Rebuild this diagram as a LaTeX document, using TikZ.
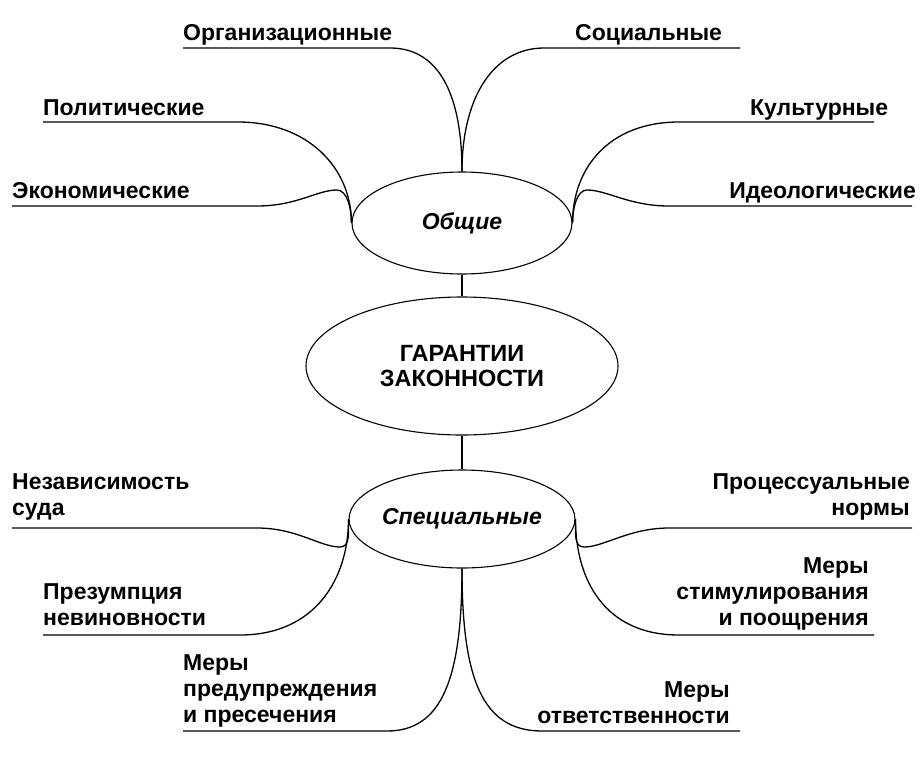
\documentclass[tikz,border=0pt]{standalone}
\usepackage{fontspec}
\setmainfont{Liberation Sans}
\usetikzlibrary{shapes.geometric}

\begin{document}
\begin{tikzpicture}[x=1pt, y=-1pt,
    every node/.style={font=\fontsize{23}{26}\selectfont\bfseries, inner sep=0pt},
    oval/.style={draw, ellipse, line width=1.1pt, inner sep=0pt},
    branch/.style={line width=1.3pt},
    lbl/.style={anchor=base west, align=left},
    rlbl/.style={anchor=base east, align=right}]
  \useasboundingbox (0,0) rectangle (924,756);

  % ellipses
  \node[oval, minimum width=220, minimum height=102] (obsh) at (462,223) {\itshape Общие};
  \node[oval, minimum width=312, minimum height=138, align=center,
        font=\fontsize{23.5}{25}\selectfont\bfseries] (main) at (462,366) {ГАРАНТИИ\\ЗАКОННОСТИ};
  \node[oval, minimum width=220, minimum height=98] (spec) at (462,519) {\itshape Специальные};
  \draw[branch] (obsh) -- (main);
  \draw[branch] (main) -- (spec);

  % general guarantees
  \node[lbl] (org) at (183,40) {Организационные};
  \node[lbl] (soc) at (575,40) {Социальные};
  \node[lbl] (pol) at (43,115) {Политические};
  \node[lbl] (eco) at (12,198) {Экономические};
  \node[lbl] (kul) at (750,115) {Культурные};
  \node[rlbl] (ideo) at (916,198) {Идеологические};

  \coordinate (org-l) at (183,48);  \coordinate (org-r) at (390,48);
  \coordinate (soc-r) at (740,48);  \coordinate (soc-l) at (544,48);
  \coordinate (pol-l) at (43,122);  \coordinate (pol-r) at (238,122);
  \coordinate (eco-l) at (12,206);  \coordinate (eco-r) at (257,206);
  \coordinate (kul-r) at (874,122); \coordinate (kul-l) at (679,122);
  \coordinate (ideo-r) at (912,206); \coordinate (ideo-l) at (669,206);

  \draw[branch] (org-l) -- (org-r) .. controls +(50,0) and +(0,-75) .. (obsh.north);
  \draw[branch] (soc-r) -- (soc-l) .. controls +(-50,0) and +(0,-75) .. (obsh.north);
  \draw[branch] (pol-l) -- (pol-r) .. controls +(70,0) and +(0,-55) .. (obsh.west);
  \draw[branch] (eco-l) -- (eco-r) .. controls +(40,0) and +(-20,0) .. (337,190)
      .. controls +(10,0) and +(0,-15) .. (obsh.west);
  \draw[branch] (kul-r) -- (kul-l) .. controls +(-70,0) and +(0,-55) .. (obsh.east);
  \draw[branch] (ideo-r) -- (ideo-l) .. controls +(-40,0) and +(20,0) .. (587,190)
      .. controls +(-10,0) and +(0,-15) .. (obsh.east);

  % special guarantees
  \node[lbl] (nez) at (12,515) {Независимость\\суда};
  \node[lbl] (prez) at (43,625) {Презумпция\\невиновности};
  \node[lbl] (pred) at (183,722) {Меры\\предупреждения\\и пресечения};
  \node[rlbl] (proc) at (910,515) {Процессуальные\\нормы};
  \node[rlbl] (stim) at (869,625) {Меры\\стимулирования\\и поощрения};
  \node[rlbl] (otv) at (730,723) {Меры\\ответственности};

  \coordinate (nez-l) at (12,528);   \coordinate (nez-r) at (257,528);
  \coordinate (prez-l) at (43,635);  \coordinate (prez-r) at (240,635);
  \coordinate (pred-l) at (183,731); \coordinate (pred-r) at (387,731);
  \coordinate (proc-r) at (912,528); \coordinate (proc-l) at (669,528);
  \coordinate (stim-r) at (874,635); \coordinate (stim-l) at (679,635);
  \coordinate (otv-r) at (740,731);  \coordinate (otv-l) at (542,731);

  \draw[branch] (nez-l) -- (nez-r) .. controls +(40,0) and +(-20,0) .. (340,547)
      .. controls +(10,0) and +(0,15) .. (spec.west);
  \draw[branch] (prez-l) -- (prez-r) .. controls +(75,0) and +(0,60) .. (spec.west);
  \draw[branch] (pred-l) -- (pred-r) .. controls +(55,0) and +(0,110) .. (spec.south);
  \draw[branch] (proc-r) -- (proc-l) .. controls +(-40,0) and +(20,0) .. (584,547)
      .. controls +(-10,0) and +(0,15) .. (spec.east);
  \draw[branch] (stim-r) -- (stim-l) .. controls +(-75,0) and +(0,60) .. (spec.east);
  \draw[branch] (otv-r) -- (otv-l) .. controls +(-60,0) and +(0,110) .. (spec.south);
\end{tikzpicture}
\end{document}
